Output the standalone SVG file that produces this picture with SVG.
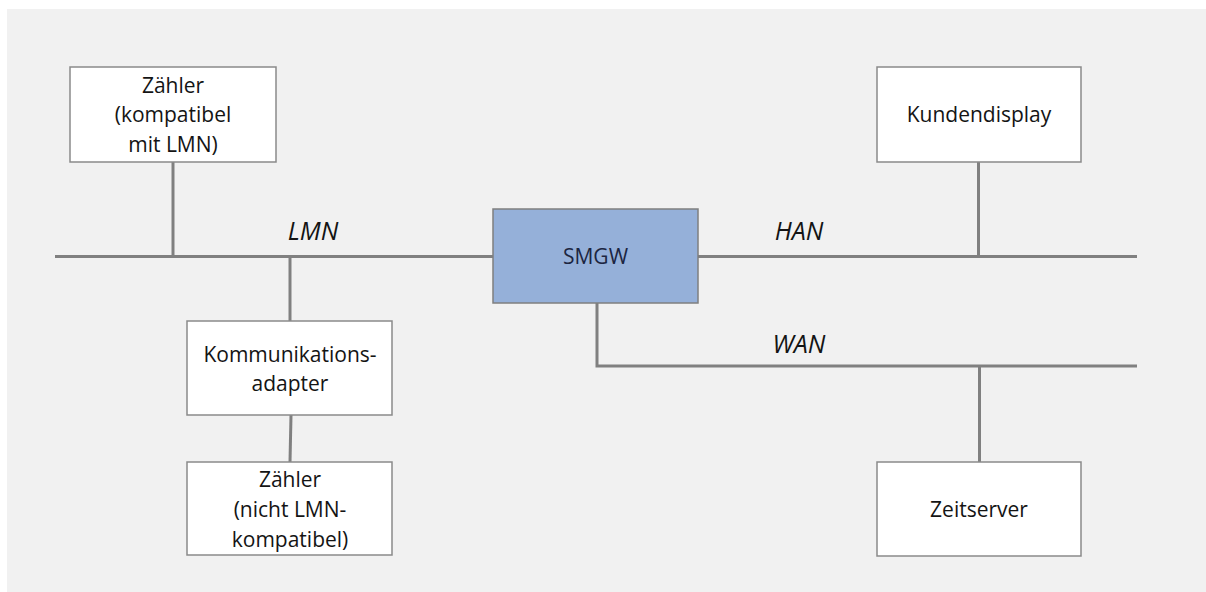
<svg xmlns="http://www.w3.org/2000/svg" width="1206" height="592" viewBox="0 0 1206 592">
  <style>
    .box { fill: #ffffff; stroke: #8a8a8a; stroke-width: 1.5; }
    .gw { fill: #95b0d9; stroke: #7f7f7f; stroke-width: 1.5; }
    .wire { fill: none; stroke: #808080; stroke-width: 3; }
    .lbl { font-family: "Open Sans", "Noto Sans", sans-serif; font-size: 21px; fill: #141414; text-anchor: middle; }
    .net { font-family: "Open Sans", "Noto Sans", sans-serif; font-size: 25px; font-style: italic; fill: #141414; text-anchor: middle; }
    .gwtxt { fill: #1c2541; }
  </style>

  <rect x="0" y="0" width="1206" height="592" fill="#ffffff"/>
  <rect x="7" y="9" width="1199" height="583" fill="#f1f1f1"/>

  <!-- bus lines and drop cables -->
  <g id="connectors">
    <line class="wire" x1="55" y1="256.5" x2="493" y2="256.5"/>
    <line class="wire" x1="698" y1="256.5" x2="1137" y2="256.5"/>
    <polyline class="wire" points="597,303 597,366 1137,366"/>
    <line class="wire" x1="173" y1="162" x2="173" y2="256.5"/>
    <line class="wire" x1="290" y1="256.5" x2="290" y2="321"/>
    <line class="wire" x1="291" y1="415" x2="290" y2="462"/>
    <line class="wire" x1="978.5" y1="162" x2="978.5" y2="256.5"/>
    <line class="wire" x1="979.5" y1="366" x2="979.5" y2="462"/>
  </g>

  <!-- network labels -->
  <g id="net-labels">
    <text class="net" x="313" y="240">LMN</text>
    <text class="net" x="799" y="239.5">HAN</text>
    <text class="net" x="799" y="352.5">WAN</text>
  </g>

  <g id="zaehler-lmn">
    <rect class="box" x="70" y="67" width="206" height="95"/>
    <text class="lbl" x="173" y="92.5">Zähler</text>
    <text class="lbl" x="173" y="122">(kompatibel</text>
    <text class="lbl" x="173" y="151.5">mit LMN)</text>
  </g>

  <g id="kommunikationsadapter">
    <rect class="box" x="187" y="321" width="205" height="94"/>
    <text class="lbl" x="290" y="361.5">Kommunikations-</text>
    <text class="lbl" x="290" y="390.5">adapter</text>
  </g>

  <g id="zaehler-nicht-lmn">
    <rect class="box" x="187" y="462" width="205" height="93"/>
    <text class="lbl" x="290" y="486.5">Zähler</text>
    <text class="lbl" x="290" y="516.5">(nicht LMN-</text>
    <text class="lbl" x="290" y="546.5">kompatibel)</text>
  </g>

  <g id="smgw">
    <rect class="gw" x="493" y="209" width="205" height="94"/>
    <text class="lbl gwtxt" x="595.5" y="264">SMGW</text>
  </g>

  <g id="kundendisplay">
    <rect class="box" x="877" y="67" width="204" height="95"/>
    <text class="lbl" x="979" y="121.5">Kundendisplay</text>
  </g>

  <g id="zeitserver">
    <rect class="box" x="877" y="462" width="204" height="94"/>
    <text class="lbl" x="979" y="516.5">Zeitserver</text>
  </g>
</svg>
